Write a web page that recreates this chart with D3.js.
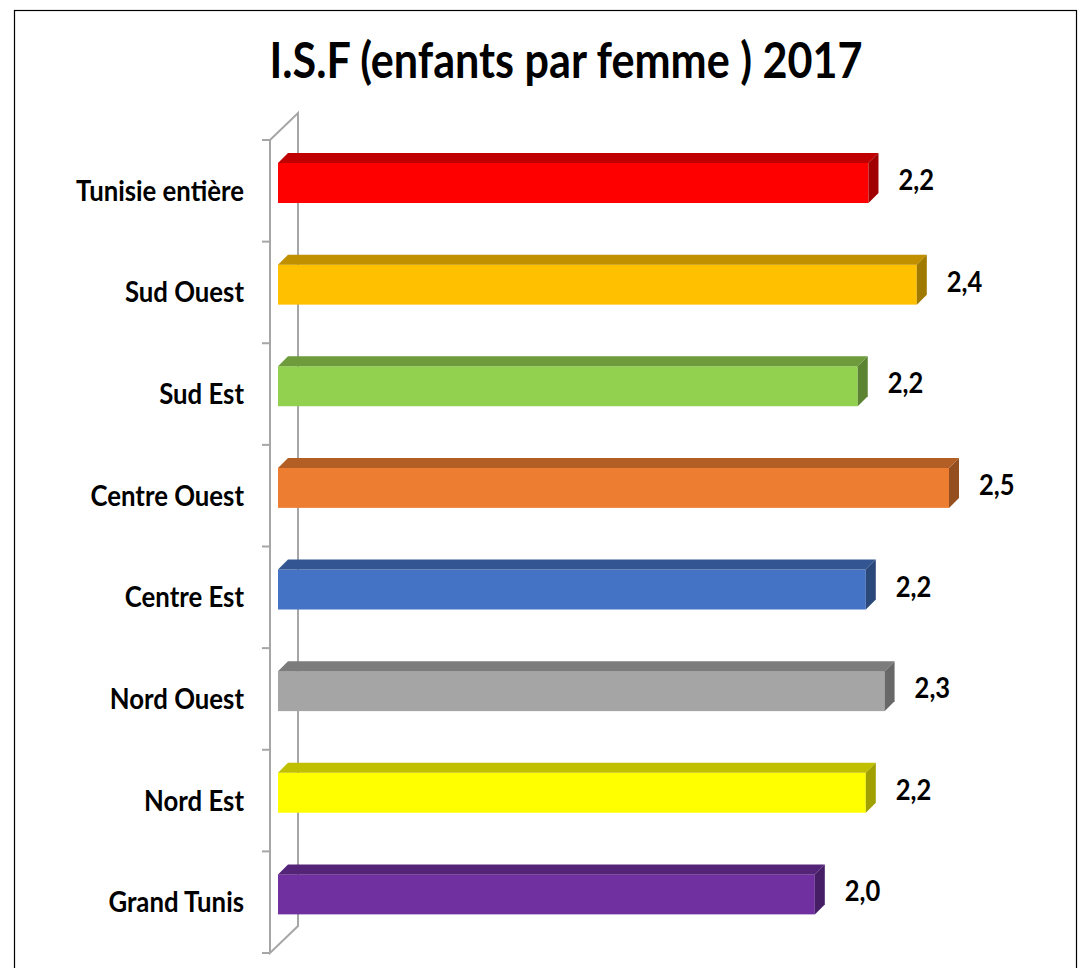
<!DOCTYPE html>
<html>
<head>
<meta charset="utf-8">
<script src="https://cdn.jsdelivr.net/npm/d3@7"></script>
<style>
  body { margin: 0; background: #fff; }
  text { font-family: Lato, "Open Sans", sans-serif; font-weight: bold; fill: #000; }
</style>
</head>
<body>
<svg id="chart" width="1084" height="968"></svg>
<script>
// données (ordre de haut en bas)
var regions = ['Tunisie entière', 'Sud Ouest', 'Sud Est', 'Centre Ouest', 'Centre Est', 'Nord Ouest', 'Nord Est', 'Grand Tunis'];
var isfValues = [2.2, 2.38, 2.16, 2.5, 2.19, 2.26, 2.19, 2.0];
var barColors = ['#ff0000', '#ffc000', '#92d050', '#ed7d31', '#4472c4', '#a5a5a5', '#ffff00', '#7030a0'];
var title = 'I.S.F (enfants par femme ) 2017';

var svg = d3.select('#chart');

// police étroite simulée par une compression horizontale
var placeText = function(sel, xf, yf, squeeze){
  return sel.attr('transform', function(d, i){
    return 'translate(' + xf(d, i) + ',' + yf(d, i) + ') scale(' + squeeze + ',1)';
  });
};

// cadre
svg.append('rect')
  .attr('x', 14.5).attr('y', 10.5)
  .attr('width', 1062).attr('height', 980)
  .attr('fill', 'none').attr('stroke', '#000').attr('stroke-width', 1.2);

placeText(svg.append('text').datum(title), function(){ return 566; }, function(){ return 78; }, 0.88)
  .attr('text-anchor', 'middle')
  .style('font-size', '49px')
  .text(title);

// profondeur du mur (effet 3D) et des barres
var wallDx = 28, wallDy = 27;
var barDx = 10, barDy = 10;

var y = d3.scaleBand().domain(regions).range([140, 953]);
var x = d3.scaleLinear().domain([0, 2.5]).range([278, 949]);

var wallColor = '#a6a6a6';
var wall = svg.append('g').attr('fill', 'none').attr('stroke', wallColor).attr('stroke-width', 2);
var yTop = y.range()[0], yBot = y.range()[1], xFront = 270;
wall.append('path')
  .attr('d', 'M' + xFront + ',' + yTop + 'L' + (xFront + wallDx) + ',' + (yTop - wallDy) +
    'L' + (xFront + wallDx) + ',' + (yBot - wallDy) + 'L' + xFront + ',' + yBot + 'Z');

var ticks = regions.map(function(r){ return y(r); }).concat([yBot]);
wall.selectAll('.tick').data(ticks).enter()
  .append('line')
  .attr('x1', xFront - 8).attr('x2', xFront)
  .attr('y1', function(d){ return d; }).attr('y2', function(d){ return d; });

// étiquettes des catégories
placeText(svg.selectAll('.cat').data(regions).enter().append('text'),
    function(){ return 244; },
    function(d){ return y(d) + y.bandwidth()/2 + 10; }, 0.92)
  .attr('class', 'cat')
  .attr('text-anchor', 'end')
  .style('font-size', '28px')
  .text(function(d){ return d; });

var rows = regions.map(function(r, i){
  return {name: r, value: isfValues[i], color: barColors[i]};
});

var bars = svg.selectAll('.bar').data(rows).enter()
  .append('g').attr('class', 'bar');

var frontTop = function(d){ return y(d.name) + 23; };
var frontBot = function(d){ return y(d.name) + 63; };

// face avant
bars.append('rect')
  .attr('x', x(0))
  .attr('y', frontTop)
  .attr('width', function(d){ return x(d.value) - x(0); })
  .attr('height', function(d){ return frontBot(d) - frontTop(d); })
  .attr('fill', function(d){ return d.color; });

// dessus
bars.append('path')
  .attr('d', function(d){
    var t = frontTop(d), l = x(0), r = x(d.value);
    return 'M' + l + ',' + t + 'L' + (l + barDx) + ',' + (t - barDy) +
      'L' + (r + barDx) + ',' + (t - barDy) + 'L' + r + ',' + t + 'Z';
  })
  .attr('fill', function(d){ return d3.color(d.color).darker(0.8); });

// côté
bars.append('path')
  .attr('d', function(d){
    var t = frontTop(d), b = frontBot(d), r = x(d.value);
    return 'M' + r + ',' + t + 'L' + (r + barDx) + ',' + (t - barDy) +
      'L' + (r + barDx) + ',' + (b - barDy) + 'L' + r + ',' + b + 'Z';
  })
  .attr('fill', function(d){ return d3.color(d.color).darker(1.3); });

var fmt = d3.format('.1f');
placeText(svg.selectAll('.val').data(rows).enter().append('text'),
    function(d){ return x(d.value) + 30; },
    function(d){ return y(d.name) + 50; }, 0.88)
  .attr('class', 'val')
  .style('font-size', '29px')
  .text(function(d){ return fmt(d.value).replace('.', ','); });
</script>
</body>
</html>
